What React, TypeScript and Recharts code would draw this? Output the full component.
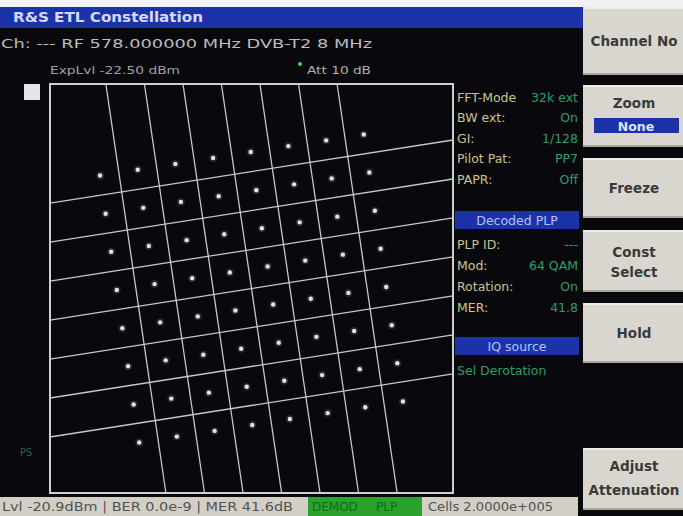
import React from 'react'
import {
  ScatterChart, Scatter, XAxis, YAxis, ReferenceLine, ReferenceArea
} from 'recharts'

// received 64-QAM symbols (rotated), one array per row, top row first
const symbolRowsI = [
  [-7.89, -5.93, -3.97, -2.0, -0.04, 1.92, 3.89, 5.85],
  [-7.6, -5.64, -3.68, -1.71, 0.25, 2.22, 4.18, 6.14],
  [-7.31, -5.35, -3.38, -1.42, 0.54, 2.51, 4.47, 6.43],
  [-7.02, -5.05, -3.09, -1.13, 0.84, 2.8, 4.76, 6.73],
  [-6.73, -4.76, -2.8, -0.84, 1.13, 3.09, 5.05, 7.02],
  [-6.43, -4.47, -2.51, -0.54, 1.42, 3.38, 5.35, 7.31],
  [-6.14, -4.18, -2.22, -0.25, 1.71, 3.68, 5.64, 7.6],
  [-5.85, -3.89, -1.92, 0.04, 2.0, 3.97, 5.93, 7.89],
]
const symbolRowsQ = [
  [5.91, 6.21, 6.52, 6.83, 7.14, 7.45, 7.75, 8.06],
  [3.91, 4.22, 4.53, 4.83, 5.14, 5.45, 5.76, 6.07],
  [1.92, 2.22, 2.53, 2.84, 3.15, 3.46, 3.76, 4.07],
  [-0.08, 0.23, 0.54, 0.84, 1.15, 1.46, 1.77, 2.08],
  [-2.08, -1.77, -1.46, -1.15, -0.84, -0.54, -0.23, 0.08],
  [-4.07, -3.76, -3.46, -3.15, -2.84, -2.53, -2.22, -1.92],
  [-6.07, -5.76, -5.45, -5.14, -4.83, -4.53, -4.22, -3.91],
  [-8.06, -7.75, -7.45, -7.14, -6.83, -6.52, -6.21, -5.91],
]

// decision boundaries: where each line meets the frame
const iEdge = 10.5
const qEdge = 10.7
const vBoundTopI = [-7.59, -5.58, -3.57, -1.57, 0.44, 2.45, 4.46]
const vBoundBottomI = [-4.46, -2.45, -0.44, 1.57, 3.57, 5.58, 7.59]
const hBoundLeftQ = [4.47, 2.43, 0.39, -1.65, -3.69, -5.73, -7.77]
const hBoundRightQ = [7.77, 5.73, 3.69, 1.65, -0.39, -2.43, -4.47]

const paramLabels = ['FFT-Mode', 'BW ext:', 'GI:', 'Pilot Pat:', 'PAPR:']
const paramValues = ['32k ext', 'On', '1/128', 'PP7', 'Off']
const plpLabels = ['PLP ID:', 'Mod:', 'Rotation:', 'MER:']
const plpValues = ['---', '64 QAM', 'On', '41.8']

const symbols = symbolRowsI.flatMap((row, r) =>
  row.map((i, c) => ({ i, q: symbolRowsQ[r][c] }))
)

const FONT = '"DejaVu Sans", Verdana, sans-serif'
const LABEL = '#c9c48e'
const VALUE = '#2f9c6c'
const BLUE = '#1c33a8'
const BTN = '#d9d6cf'
const BTN_TXT = '#3a3a3a'

const SymbolDot = (props: any) => {
  const { cx, cy } = props
  if (cx == null || cy == null) return null
  return (
    <g>
      <circle cx={cx} cy={cy} r={4} fill="#ffffff" opacity={0.12} />
      <circle cx={cx} cy={cy} r={2.2} fill="#e4e4e4" />
    </g>
  )
}

const Txt = (p: any) => (
  <text
    x={p.x}
    y={p.y}
    fill={p.c}
    fontSize={p.s || 12}
    fontWeight={p.b ? 'bold' : 'normal'}
    fontFamily={FONT}
    textAnchor={p.a || 'start'}
    dominantBaseline="central"
    textLength={p.w}
    lengthAdjust={p.w ? 'spacingAndGlyphs' : undefined}
  >
    {p.children}
  </text>
)

const Button = ({ y, h, lines, ys }: { y: number; h: number; lines: string[]; ys: number[] }) => (
  <g>
    <rect x={583} y={y} width={100} height={h} fill={BTN} />
    <rect x={583} y={y} width={100} height={2} fill="#eeece6" />
    <rect x={583} y={y + h - 2} width={100} height={2} fill="#a9a69f" />
    {lines.map((l, k) => (
      <Txt key={k} x={634} y={ys[k]} c={BTN_TXT} s={13.5} b a="middle">{l}</Txt>
    ))}
  </g>
)

const App: React.FC = () => {
  return (
    <div style={{ position: 'absolute', left: 0, top: 0, width: 683, height: 516, background: '#09090d', overflow: 'hidden' }}>
      <svg width={683} height={516} style={{ position: 'absolute', left: 0, top: 0 }}>
        <rect x={0} y={0} width={683} height={7} fill="#f2f2f2" />
        <rect x={0} y={7} width={583} height={21} fill={BLUE} />
        <Txt x={13} y={17} c="#d4dafc" s={14} b w={190}>R&amp;S ETL Constellation</Txt>
        <Txt x={1} y={43} c="#bdbdbd" s={13} w={371}>Ch: --- RF 578.000000 MHz  DVB-T2  8 MHz</Txt>
        <Txt x={50} y={70} c="#a0a0a0" s={11} w={130}>ExpLvl -22.50 dBm</Txt>
        <circle cx={300} cy={64} r={2} fill="#3fd45a" />
        <Txt x={307} y={70} c="#b0b0b0" s={11} w={64}>Att 10 dB</Txt>
        <rect x={24} y={84} width={16} height={16} fill="#e6e6e6" />
        <Txt x={20} y={452} c="#1d6252" s={10}>PS</Txt>

        {paramLabels.map((l, k) => (
          <Txt key={l} x={457} y={97 + k * 20.5} c={LABEL} s={12.5}>{l}</Txt>
        ))}
        {paramValues.map((v, k) => (
          <Txt key={v + k} x={578} y={97 + k * 20.5} c={VALUE} s={12.5} a="end">{v}</Txt>
        ))}
        <rect x={455} y={211} width={124} height={18} fill={BLUE} />
        <Txt x={517} y={220} c="#b4c2ff" s={12.5} a="middle">Decoded PLP</Txt>
        {plpLabels.map((l, k) => (
          <Txt key={l} x={457} y={244 + k * 21} c={LABEL} s={12.5}>{l}</Txt>
        ))}
        {plpValues.map((v, k) => (
          <Txt key={v + k} x={578} y={244 + k * 21} c={VALUE} s={12.5} a="end">{v}</Txt>
        ))}
        <rect x={455} y={337} width={124} height={18} fill={BLUE} />
        <Txt x={517} y={346} c="#b4c2ff" s={12.5} a="middle">IQ source</Txt>
        <Txt x={457} y={370} c={VALUE} s={12.5}>Sel Derotation</Txt>

        <Button y={7} h={68} lines={['Channel No']} ys={[41]} />
        <Button y={85} h={62} lines={['Zoom']} ys={[103]} />
        <rect x={594} y={118} width={85} height={15} fill={BLUE} />
        <Txt x={636} y={126} c="#dfe4ff" s={12.5} b a="middle">None</Txt>
        <Button y={158} h={60} lines={['Freeze']} ys={[188]} />
        <Button y={230} h={62} lines={['Const', 'Select']} ys={[252, 272]} />
        <Button y={303} h={60} lines={['Hold']} ys={[333]} />
        <Button y={448} h={62} lines={['Adjust', 'Attenuation']} ys={[466, 490]} />

        <rect x={0} y={497} width={578} height={19} fill="#d3cfc6" />
        <rect x={308} y={497} width={114} height={19} fill="#2ba22b" />
        <Txt x={2} y={507} c="#525252" s={12} w={291}>Lvl -20.9dBm | BER 0.0e-9 | MER 41.6dB</Txt>
        <Txt x={312} y={507} c="#0f6a1d" s={12}>DEMOD</Txt>
        <Txt x={376} y={507} c="#0f6a1d" s={12}>PLP</Txt>
        <Txt x={428} y={507} c="#525252" s={12} w={125}>Cells 2.0000e+005</Txt>
      </svg>

      <div style={{ position: 'absolute', left: 0, top: 0 }}>
        <ScatterChart width={683} height={516} margin={{ top: 84, right: 230, bottom: 23, left: 50 }}>
          <XAxis type="number" dataKey="i" domain={[-iEdge, iEdge]} hide allowDataOverflow />
          <YAxis type="number" dataKey="q" domain={[-qEdge, qEdge]} hide allowDataOverflow />
          <ReferenceArea
            x1={-iEdge} x2={iEdge} y1={-qEdge} y2={qEdge}
            fill="#000" fillOpacity={0} stroke="#cfcfcf" strokeWidth={2} ifOverflow="visible"
          />
          {vBoundTopI.map((t, k) => (
            <ReferenceLine
              key={'v' + k}
              segment={[{ x: t, y: qEdge }, { x: vBoundBottomI[k], y: -qEdge }]}
              stroke="#c8c8c8" strokeWidth={1.3} ifOverflow="visible"
            />
          ))}
          {hBoundLeftQ.map((l, k) => (
            <ReferenceLine
              key={'h' + k}
              segment={[{ x: -iEdge, y: l }, { x: iEdge, y: hBoundRightQ[k] }]}
              stroke="#c8c8c8" strokeWidth={1.3} ifOverflow="visible"
            />
          ))}
          <Scatter data={symbols} isAnimationActive={false} shape={SymbolDot} />
        </ScatterChart>
      </div>
    </div>
  )
}

export default App
